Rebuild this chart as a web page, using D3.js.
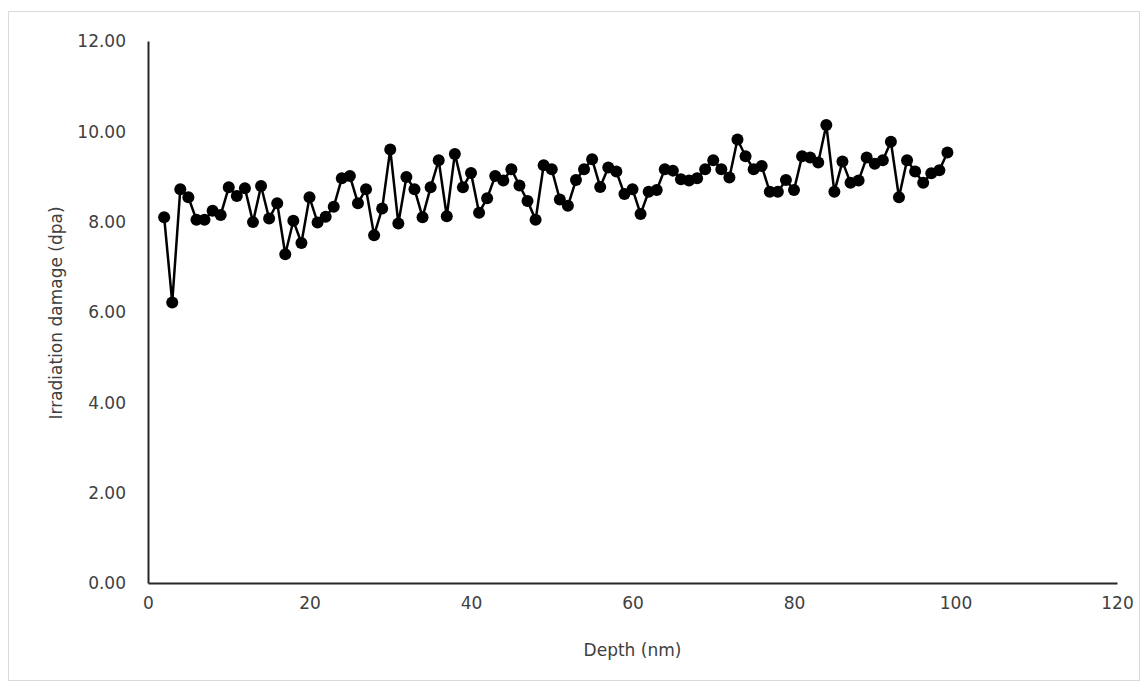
<!DOCTYPE html>
<html>
<head>
<meta charset="utf-8">
<script src="https://cdn.jsdelivr.net/npm/d3@7"></script>
<style>
  body { margin: 0; background: #fff; }
  svg text { font-family: "DejaVu Sans", Verdana, sans-serif; fill: #404040; }
</style>
</head>
<body>
<div id="chart"></div>
<script>
// depth in nm, damage in dpa
var depth = [];
for (var d = 2; d <= 99; d++) depth.push(d);
var damage = [
  8.10, 6.21, 8.72, 8.54, 8.04, 8.04, 8.24, 8.15, 8.76, 8.57,   // 2-11
  8.74, 7.99, 8.79, 8.07, 8.41, 7.28, 8.02, 7.53, 8.54, 7.98,   // 12-21
  8.11, 8.33, 8.96, 9.01, 8.41, 8.72, 7.70, 8.29, 9.60, 7.96,   // 22-31
  8.99, 8.72, 8.10, 8.76, 9.36, 8.12, 9.50, 8.76, 9.08, 8.20,   // 32-41
  8.52, 9.01, 8.91, 9.16, 8.80, 8.46, 8.04, 9.25, 9.16, 8.49,   // 42-51
  8.35, 8.92, 9.16, 9.38, 8.77, 9.20, 9.11, 8.61, 8.72, 8.17,   // 52-61
  8.66, 8.70, 9.16, 9.13, 8.94, 8.91, 8.96, 9.16, 9.36, 9.16,   // 62-71
  8.98, 9.82, 9.45, 9.16, 9.23, 8.66, 8.66, 8.92, 8.70, 9.45,   // 72-81
  9.42, 9.31, 10.14, 8.66, 9.33, 8.86, 8.91, 9.42, 9.28, 9.36,  // 82-91
  9.77, 8.54, 9.36, 9.11, 8.86, 9.07, 9.14, 9.53                // 92-99
];
var xTicks = [0, 20, 40, 60, 80, 100, 120];
var yTicks = [0, 2, 4, 6, 8, 10, 12];

var width = 1145, height = 685;
var padL = 148, padR = 1117, padT = 41, padB = 583; // plot edges in px

var svg = d3.select("#chart").append("svg")
  .attr("width", width).attr("height", height);

// chart area border
svg.append("rect")
  .attr("x", 8.5).attr("y", 11.5)
  .attr("width", width - 14).attr("height", height - 16)
  .attr("fill", "none").attr("stroke", "#d9d9d9");

var x = d3.scaleLinear().domain([0, 120]).range([padL, padR]);
var y = d3.scaleLinear().domain([0, 12]).range([padB, padT]);

var xAxis = svg.append("g")
  .attr("transform", "translate(0," + padB + ")")
  .call(d3.axisBottom(x).tickValues(xTicks).tickSize(0).tickPadding(20).tickFormat(d3.format("d")));
var yAxis = svg.append("g")
  .attr("transform", "translate(" + padL + ",0)")
  .call(d3.axisLeft(y).tickValues(yTicks).tickSize(0).tickPadding(22).tickFormat(d3.format(".2f")));

[xAxis, yAxis].forEach(function(g) {
  g.select(".domain").attr("stroke", "#262626").attr("stroke-width", 2);
  g.selectAll("text").attr("font-size", 17).attr("fill", "#404040")
    .attr("font-family", "'DejaVu Sans', Verdana, sans-serif");
});
xAxis.selectAll("text").attr("dy", "0.35em");
yAxis.selectAll("text").attr("dy", "0.35em");

var pts = depth.map(function(d, i) { return [d, damage[i]]; });

svg.append("path")
  .datum(pts)
  .attr("fill", "none")
  .attr("stroke", "#000")
  .attr("stroke-width", 2.5)
  .attr("d", d3.line().x(function(p) { return x(p[0]); }).y(function(p) { return y(p[1]); }));

svg.append("g").selectAll("circle")
  .data(pts).enter().append("circle")
  .attr("cx", function(p) { return x(p[0]); })
  .attr("cy", function(p) { return y(p[1]); })
  .attr("r", 6)
  .attr("fill", "#000");

svg.append("text")
  .attr("x", (padL + padR) / 2).attr("y", 650).attr("dy", "0.35em")
  .attr("text-anchor", "middle").attr("font-size", 17)
  .text("Depth (nm)");

svg.append("text")
  .attr("transform", "translate(56,313) rotate(-90)")
  .attr("dy", "0.35em")
  .attr("text-anchor", "middle").attr("font-size", 17)
  .text("Irradiation damage (dpa)");
</script>
</body>
</html>
